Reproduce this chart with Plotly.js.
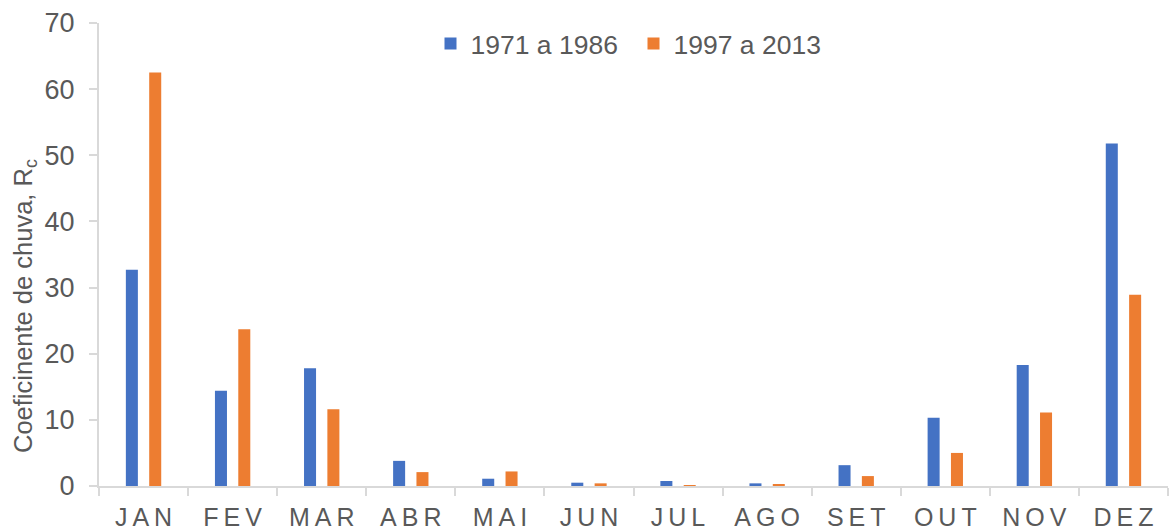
<!DOCTYPE html>
<html>
<head>
<meta charset="utf-8">
<script src="https://cdn.plot.ly/plotly-3.0.1.min.js"></script>
<style>html,body{margin:0;padding:0;background:#fff;}#chart{width:1171px;height:532px;}</style>
</head>
<body>
<div id="chart"></div>
<script>
const months = ["JAN","FEV","MAR","ABR","MAI","JUN","JUL","AGO","SET","OUT","NOV","DEZ"];
const series1Name = "1971 a 1986";
const series2Name = "1997 a 2013";
const series1 = [32.7, 14.4, 17.8, 3.8, 1.1, 0.5, 0.76, 0.4, 3.15, 10.3, 18.3, 51.8];
const series2 = [62.5, 23.7, 11.6, 2.1, 2.2, 0.4, 0.15, 0.3, 1.5, 5.0, 11.1, 28.9];
const yTicks = [0, 10, 20, 30, 40, 50, 60, 70];
const yTitle = "Coeficinente de chuva, R<sub>c</sub>";

// spaced-out month labels (letter spacing)
const spaced = months.map(m => m.split("").join("\u2009"));

const txt = "#595959";
const axisCol = "#d9d9d9";
const fontFam = "Liberation Sans, Arial, sans-serif";

const traces = [
  {type: "bar", name: series1Name, x: spaced, y: series1,
   marker: {color: "#4472C4", line: {width: 0}}},
  {type: "bar", name: series2Name, x: spaced, y: series2,
   marker: {color: "#ED7D31", line: {width: 0}}}
];

const layout = {
  width: 1171, height: 532,
  margin: {l: 99, r: 3, t: 23, b: 46, pad: 0},
  paper_bgcolor: "#fff", plot_bgcolor: "#fff",
  font: {family: fontFam, color: txt, size: 24},
  barmode: "group",
  bargap: 0.476,
  bargroupgap: 0.485,
  showlegend: true,
  legend: {orientation: "h", x: 0.5, xanchor: "center", y: 0.955, yanchor: "middle",
           font: {size: 26.5, color: txt}, bgcolor: "rgba(0,0,0,0)",
           entrywidth: 158, entrywidthmode: "pixels"},
  xaxis: {
    type: "category",
    tickson: "boundaries",
    ticks: "outside", ticklen: 8, tickwidth: 2, tickcolor: axisCol,
    showline: true, linecolor: axisCol, linewidth: 2,
    showgrid: false, zeroline: false,
    tickfont: {size: 25, color: txt},
    ticklabelstandoff: 8,
    fixedrange: true
  },
  yaxis: {
    range: [0, 70],
    tickvals: yTicks,
    ticktext: yTicks.map(String),
    ticks: "outside", ticklen: 8, tickwidth: 2, tickcolor: axisCol,
    showline: true, linecolor: axisCol, linewidth: 2,
    showgrid: false, zeroline: false,
    tickfont: {size: 27, color: txt},
    ticklabelstandoff: 9,
    fixedrange: true
  },
  annotations: [{
    text: yTitle, textangle: -90, showarrow: false,
    xref: "paper", yref: "paper",
    x: (25 - 99) / 1069, y: (486 - 306) / 463,
    xanchor: "center", yanchor: "middle",
    font: {size: 25.5, color: txt}
  }]
};

Plotly.newPlot("chart", traces, layout, {displayModeBar: false, staticPlot: true});
</script>
</body>
</html>
